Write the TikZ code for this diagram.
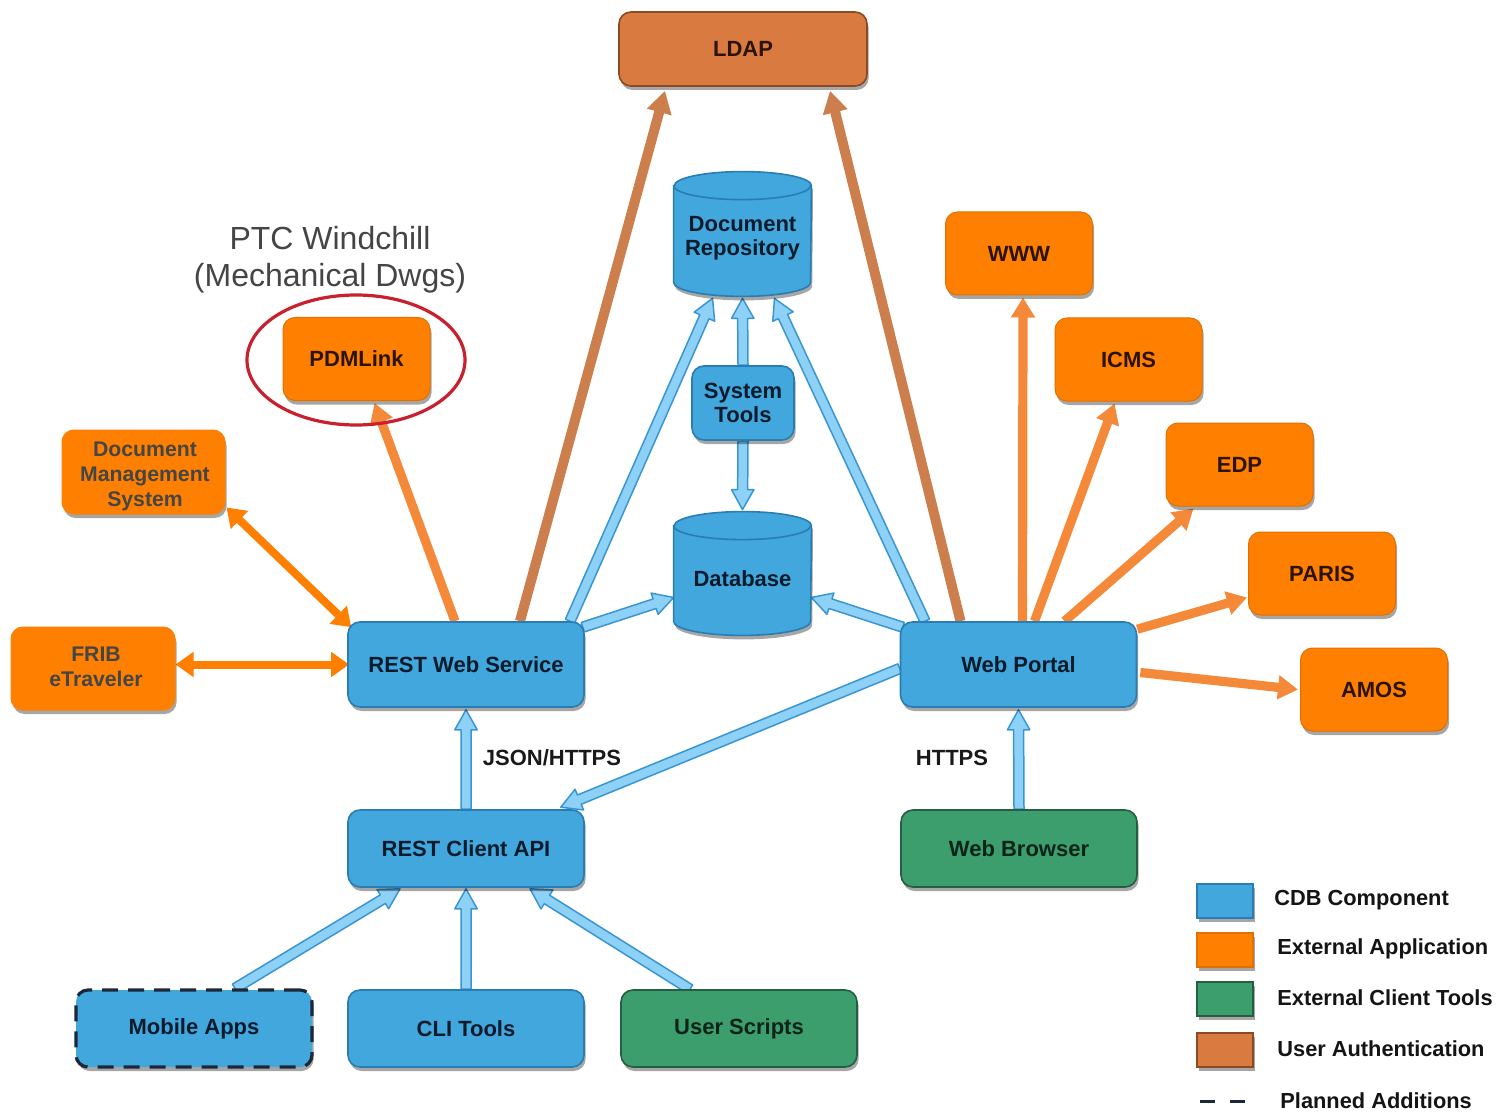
\documentclass[tikz,border=0pt]{standalone}
\usepackage{fontspec}
\setmainfont{Liberation Sans}
\usetikzlibrary{calc,arrows.meta,shapes.geometric,shadows}
\definecolor{cdbblue}{HTML}{41A7DC}
\definecolor{cdbline}{HTML}{2A7DB2}
\definecolor{cdbtext}{HTML}{0C1B2C}
\definecolor{extorange}{HTML}{FF8000}
\definecolor{extline}{HTML}{E07000}
\definecolor{exttext}{HTML}{2B1300}
\definecolor{authbrown}{HTML}{D97B40}
\definecolor{authline}{HTML}{8C4A22}
\definecolor{cligreen}{HTML}{3C9D6D}
\definecolor{cliline}{HTML}{255E42}
\definecolor{clitext}{HTML}{0E2318}
\definecolor{arrlight}{HTML}{8ED1F7}
\definecolor{arrdark}{HTML}{3A96D2}
\definecolor{arrorange}{HTML}{F5893A}
\definecolor{arrbright}{HTML}{FF7F00}
\definecolor{arrbrown}{HTML}{CC7E4C}
\definecolor{ringred}{HTML}{C8202F}
\definecolor{graytext}{HTML}{454545}
\definecolor{dashcol}{HTML}{1B2838}
\pgfdeclarelayer{paper}
\pgfdeclarelayer{bg}
\pgfsetlayers{paper,bg,main}
\newcommand\bluearrow[2]{%
  \path[blarrow] let \p1=(#1), \p2=(#2),
    \n1={veclen(\x2-\x1,\y2-\y1)},
    \n2={(\x2-\x1)/\n1}, \n3={(\y2-\y1)/\n1} in
    ({\x1-2.5pt*\n3},{\y1+2.5pt*\n2})
    -- ({\x2-10pt*\n2-2.5pt*\n3},{\y2-10pt*\n3+2.5pt*\n2})
    -- ({\x2-10pt*\n2-5.6pt*\n3},{\y2-10pt*\n3+5.6pt*\n2})
    -- (\p2)
    -- ({\x2-10pt*\n2+5.6pt*\n3},{\y2-10pt*\n3-5.6pt*\n2})
    -- ({\x2-10pt*\n2+2.5pt*\n3},{\y2-10pt*\n3-2.5pt*\n2})
    -- ({\x1+2.5pt*\n3},{\y1-2.5pt*\n2})
    -- cycle;}
% cylinder outline drawn round a named (invisible) node
\newcommand\cylinderat[1]{%
  \path[cylstyle] ([yshift=-7pt]#1.north west) -- ([yshift=7pt]#1.south west)
     arc[start angle=180, end angle=360, x radius=34.25pt, y radius=7pt]
     -- ([yshift=-7pt]#1.north east)
     arc[start angle=0, end angle=180, x radius=34.25pt, y radius=7pt] -- cycle;
  \draw[cdbline, line width=0.8pt] ([yshift=-7pt]#1.north west)
     arc[start angle=180, end angle=360, x radius=34.25pt, y radius=7pt];}
\begin{document}
\begin{tikzpicture}[x=0.5pt,y=-0.5pt,
  shad/.style={drop shadow={shadow xshift=0.8pt,shadow yshift=-2pt,opacity=0.35,fill=black}},
  box/.style={rectangle, rounded corners=6pt, inner sep=0pt, align=center,
    font=\fontsize{11}{12}\selectfont\bfseries, shad},
  cdb/.style={box, fill=cdbblue, draw=cdbline, line width=0.8pt, text=cdbtext},
  cylnode/.style={rectangle, inner sep=0pt, minimum width=68.5pt},
  cylstyle/.style={fill=cdbblue, draw=cdbline, line width=0.8pt, shad},
  cyltext/.style={align=center, font=\fontsize{11}{12}\selectfont\bfseries, text=cdbtext, inner sep=0pt},
  ext/.style={box, fill=extorange, draw=extline, line width=0.5pt, text=exttext},
  extg/.style={box, fill=extorange, draw=extorange, line width=0.5pt},
  gtext/.style={cyltext, text=graytext, font=\fontsize{10.6}{12.5}\selectfont\bfseries},
  auth/.style={box, fill=authbrown, draw=authline, line width=0.8pt, text=exttext},
  cli/.style={box, fill=cligreen, draw=cliline, line width=0.8pt, text=clitext},
  planned/.style={draw=dashcol, line width=1.6pt, dash pattern=on 8pt off 5pt},
  bigbox/.style={minimum width=118pt, minimum height=42.5pt},
  midbox/.style={minimum width=118pt, minimum height=38.5pt},
  extbox/.style={minimum width=73.5pt, minimum height=41.5pt},
  blarrow/.style={fill=arrlight, draw=arrdark, line width=0.75pt, line join=round},
  oarrow/.style={draw=arrorange, line width=4.6pt, -{Triangle[length=10pt,width=11.5pt]}},
  barrow/.style={draw=arrbrown, line width=5pt, -{Triangle[length=11pt,width=12pt]}},
  darrow/.style={draw=arrbright, line width=4pt,
    {Triangle[length=9pt,width=12pt]}-{Triangle[length=9pt,width=12pt]}},
  lbl/.style={font=\fontsize{11}{12}\selectfont\bfseries, text=black!90, inner sep=0pt},
  legbox/.style={rectangle, minimum width=28pt, minimum height=17pt, inner sep=0pt,
    line width=0.6pt, shad},
  legtext/.style={font=\fontsize{10.9}{12}\selectfont\bfseries, text=black!92, inner sep=0pt, anchor=west}
]
\useasboundingbox (0,0) rectangle (1503,1112);
\begin{pgfonlayer}{paper}
\fill[white] (0,0) rectangle (1503,1112);
\end{pgfonlayer}

% nodes
\node[auth, minimum width=124pt, minimum height=37pt] (ldap) at (743,49) {LDAP};
\node[cylnode, minimum height=62pt] (docrepo) at (742.5,234) {};
\cylinderat{docrepo}
\node[cyltext] (docrepotxt) at (742.5,238) {Document\\Repository};
\node[cdb, minimum width=51pt, minimum height=37pt] (systools) at (743,403) {System\\Tools};
\node[cylnode, minimum height=61.5pt] (db) at (742.5,573.5) {};
\cylinderat{db}
\node[cyltext] (dbtxt) at (742.5,579) {Database};
\node[cdb, bigbox] (rest) at (466,664.5) {REST Web Service};
\node[cdb, bigbox] (portal) at (1018.5,664.5) {Web Portal};
\node[cdb, midbox] (client) at (466,848.5) {REST Client API};
\node[cli, midbox] (browser) at (1019,848.5) {Web Browser};
\node[cdb, midbox, planned] (mobile) at (194,1028.5) {Mobile Apps};
\node[cdb, midbox] (cli) at (466,1028.5) {CLI Tools};
\node[cli, midbox] (scripts) at (739,1028.5) {User Scripts};
\node[ext, extbox] (pdm) at (356.5,359) {PDMLink};
\node[extg, minimum width=81.5pt, minimum height=42pt] (dms) at (143.5,472) {};
\node[gtext] (dmstxt) at (145,476) {Document\\Management\\System};
\node[extg, minimum width=82pt, minimum height=41.5pt] (frib) at (93,668.5) {};
\node[gtext] (fribtxt) at (96,667) {FRIB\\eTraveler};
\node[ext, extbox] (www) at (1019,253.5) {WWW};
\node[ext, extbox] (icms) at (1128.5,359.5) {ICMS};
\node[ext, extbox] (edp) at (1239.5,464.5) {EDP};
\node[ext, extbox] (paris) at (1322,573.5) {PARIS};
\node[ext, extbox] (amos) at (1374,689.5) {AMOS};

\node[ellipse, draw=ringred, line width=1.6pt, minimum width=109pt, minimum height=65pt, inner sep=0pt] (ring) at (356,360) {};
\node[font=\fontsize{16}{18.5}\selectfont, text=graytext, align=center, inner sep=0pt] (ptc) at (330,260) {PTC Windchill\\(Mechanical Dwgs)};

\node[lbl] (json) at (552,758) {JSON/HTTPS};
\node[lbl] (https) at (952,758) {HTTPS};

% legend
\node[legbox, fill=cdbblue, draw=cdbline] (lg1) at (1225,901) {};
\node[legbox, fill=extorange, draw=extline] (lg2) at (1225,950) {};
\node[legbox, fill=cligreen, draw=cliline] (lg3) at (1225,999) {};
\node[legbox, fill=authbrown, draw=authline] (lg4) at (1225,1050) {};
\coordinate (lg5a) at (1200,1101);
\coordinate (lg5b) at (1245,1101);
\draw[dashcol, line width=1.5pt, dash pattern=on 7.5pt off 7.5pt] (lg5a) -- (lg5b);
\node[legtext] (lt1) at (1274,900) {CDB Component};
\node[legtext] (lt2) at (1277,949) {External Application};
\node[legtext] (lt3) at (1277,998) {External Client Tools};
\node[legtext] (lt4) at (1277,1049) {User Authentication};
\node[legtext] (lt5) at (1280,1101) {Planned Additions};

% connectors
\begin{pgfonlayer}{bg}
\draw[barrow] ([xshift=27pt]rest.north) -- ([xshift=-39pt,yshift=-2pt]ldap.south);
\draw[barrow] ([xshift=-29pt]portal.north) -- ([xshift=43.5pt,yshift=-2pt]ldap.south);
\draw[oarrow] ([xshift=-5.5pt]rest.north) -- ([xshift=9pt,yshift=-1pt]pdm.south);
\draw[darrow] ([xshift=0.5pt,yshift=3.5pt]dms.south east) -- ([xshift=2pt,yshift=-3pt]rest.north west);
\draw[darrow] ([yshift=2pt]frib.east) -- ([xshift=1pt,yshift=0pt]rest.west);
\draw[oarrow] ([xshift=2pt]portal.north) -- ([xshift=2pt,yshift=-1pt]www.south);
\draw[oarrow] ([xshift=8pt]portal.north) -- ([xshift=-7pt,yshift=-1pt]icms.south);
\draw[oarrow] ([xshift=23pt]portal.north) -- ([xshift=-23pt,yshift=-1pt]edp.south);
\draw[oarrow] ([yshift=-4pt]portal.north east) -- ([xshift=-0.5pt,yshift=-12pt]paris.west);
\draw[oarrow] ([xshift=1.5pt,yshift=-4pt]portal.east) -- ([xshift=-1pt]amos.west);

\bluearrow{[xshift=52pt]rest.north}{[xshift=-15pt,yshift=-1pt]docrepo.south}
\bluearrow{[xshift=-46.75pt]portal.north}{[xshift=16pt,yshift=-1pt]docrepo.south}
\bluearrow{systools.north}{[yshift=-1pt]docrepo.south}
\bluearrow{systools.south}{[yshift=1pt]db.north}
\bluearrow{[xshift=-1pt,yshift=-3pt]rest.north east}{[yshift=-12pt]db.west}
\bluearrow{[xshift=1.5pt,yshift=-3pt]portal.north west}{[yshift=-12pt]db.east}
\bluearrow{[yshift=-2pt]portal.west}{[xshift=-12pt,yshift=1pt]client.north east}
\bluearrow{client.north}{[yshift=-1pt]rest.south}
\bluearrow{browser.north}{[yshift=-1pt]portal.south}
\bluearrow{[xshift=20.5pt]mobile.north}{[xshift=-33pt,yshift=-0.5pt]client.south}
\bluearrow{cli.north}{[yshift=-0.5pt]client.south}
\bluearrow{[xshift=-24.5pt]scripts.north}{[xshift=32pt,yshift=-0.5pt]client.south}
\end{pgfonlayer}
\end{tikzpicture}
\end{document}
